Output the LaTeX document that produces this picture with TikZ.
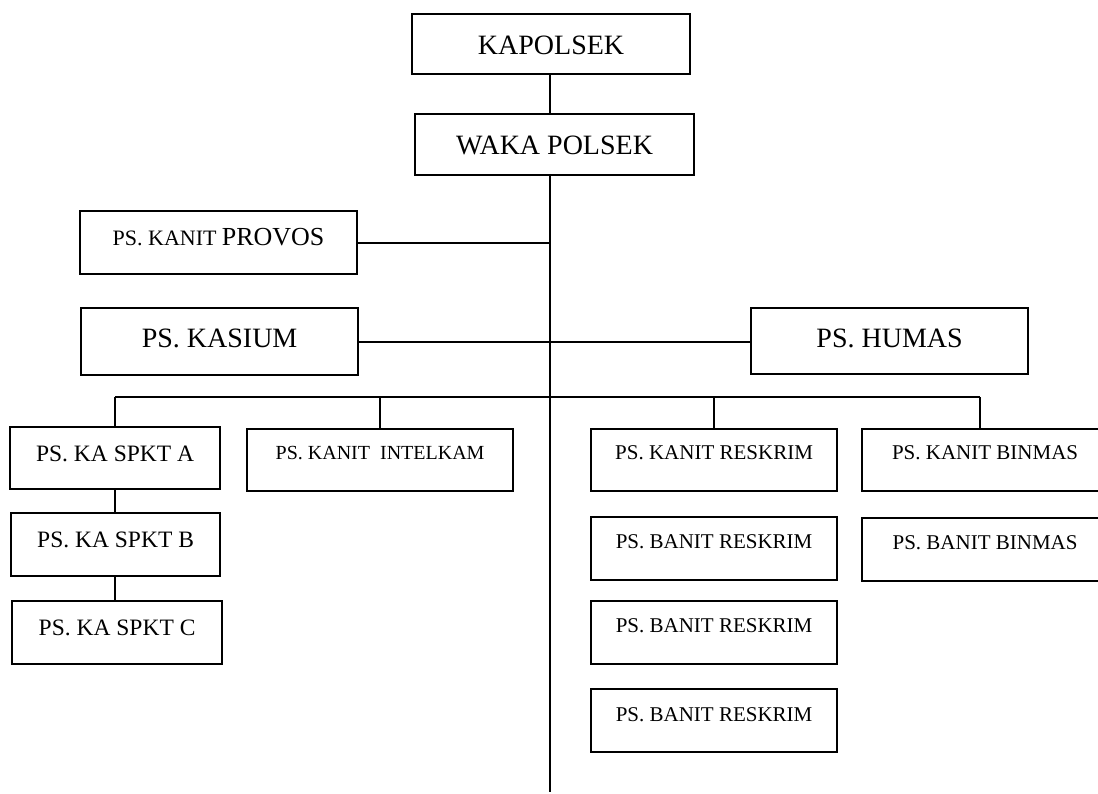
\documentclass[tikz,border=0pt]{standalone}
\usepackage{fontspec}
\setmainfont{Liberation Serif}
\usetikzlibrary{positioning, calc}
\tikzset{
    post/.style={draw, line width=2.2pt, anchor=north west, inner xsep=0pt, inner ysep=0pt,
        font=\fontsize{21}{25}\selectfont},
    bigpost/.style={post, font=\fontsize{28}{34}\selectfont},
    spkt/.style={post, font=\fontsize{23.5}{28}\selectfont},
    link/.style={line width=2pt}
}

\begin{document}
\begin{tikzpicture}[x=1pt, y=-1pt]
    \useasboundingbox (0,0) rectangle (1098,794);
    % pimpinan
    \node[bigpost, minimum width=278pt, minimum height=60pt, text height=40pt, text depth=20pt] (kapolsek) at (411,13) {KAPOLSEK};
    \node[bigpost, minimum width=279pt, minimum height=61pt, text height=40pt, text depth=21pt] (waka) at (414,113) {WAKA POLSEK};
    \node[post, minimum width=277pt, minimum height=63pt, text height=34pt, text depth=29pt] (provos) at (79,210)
        {{\fontsize{22}{26}\selectfont PS. KANIT} {\fontsize{26}{30}\selectfont PROVOS}};
    \node[bigpost, minimum width=277pt, minimum height=67pt, text height=39pt, text depth=28pt] (kasium) at (80,307) {PS. KASIUM};
    \node[bigpost, minimum width=277pt, minimum height=66pt, text height=39pt, text depth=27pt] (humas) at (750,307) {PS. HUMAS};
    % unit pelaksana
    \node[spkt, minimum width=210pt, minimum height=62pt, text height=34pt, text depth=28pt] (spktA) at (9,426) {PS. KA SPKT A};
    \node[spkt, minimum width=209pt, minimum height=63pt, text height=34pt, text depth=29pt] (spktB) at (10,512) {PS. KA SPKT B};
    \node[spkt, minimum width=210pt, minimum height=63pt, text height=34pt, text depth=29pt] (spktC) at (11,600) {PS. KA SPKT C};
    \node[post, font=\fontsize{20}{24}\selectfont, minimum width=266pt, minimum height=62pt, text height=30pt, text depth=32pt] (intelkam) at (246,428) {PS. KANIT\ \ INTELKAM};
    \node[post, minimum width=246pt, minimum height=62pt, text height=30pt, text depth=32pt] (kanitReskrim) at (590,428) {PS. KANIT RESKRIM};
    \node[post, minimum width=246pt, minimum height=63pt, text height=31pt, text depth=32pt] (banitReskrimA) at (590,516) {PS. BANIT RESKRIM};
    \node[post, minimum width=246pt, minimum height=63pt, text height=31pt, text depth=32pt] (banitReskrimB) at (590,600) {PS. BANIT RESKRIM};
    \node[post, minimum width=246pt, minimum height=63pt, text height=32pt, text depth=31pt] (banitReskrimC) at (590,688) {PS. BANIT RESKRIM};
    \node[post, minimum width=246pt, minimum height=62pt, text height=30pt, text depth=32pt] (kanitBinmas) at (861,428) {PS. KANIT BINMAS};
    \node[post, minimum width=246pt, minimum height=63pt, text height=31pt, text depth=32pt] (banitBinmas) at (861,517) {PS. BANIT BINMAS};
    % garis
    \coordinate (mainTop) at (550,174);
    \coordinate (mainEnd) at (550,792);
    \coordinate (barL) at (115,397);
    \coordinate (barR) at (980,397);
    \draw[link] (kapolsek.south -| mainTop) -- (waka.north -| mainTop);
    \draw[link] (mainTop) -- (mainEnd);
    \draw[link] (provos.east) -- (provos.east -| mainTop);
    \draw[link] (kasium.east) -- (kasium.east -| humas.west);
    \draw[link] (barL) -- (barR);
    \draw[link] (barL) -- (barL |- spktA.north);
    \draw[link] (intelkam.north) -- (intelkam.north |- barL);
    \draw[link] (kanitReskrim.north) -- (kanitReskrim.north |- barL);
    \draw[link] (barR) -- (barR |- kanitBinmas.north);
    \draw[link] (spktA.south -| barL) -- (spktB.north -| barL);
    \draw[link] (spktB.south -| barL) -- (spktC.north -| barL);
\end{tikzpicture}
\end{document}
